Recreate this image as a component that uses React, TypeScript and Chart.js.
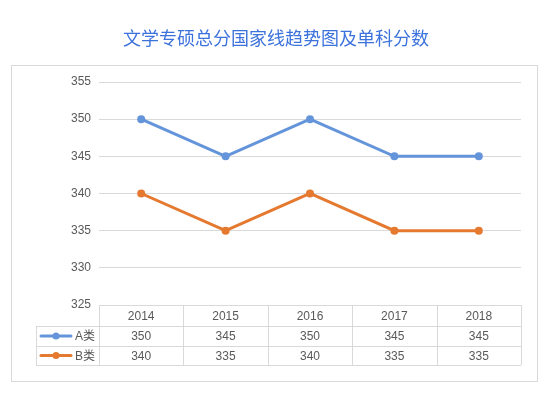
import React, { useEffect, useRef } from "react";
import { Chart, registerables } from "chart.js";

Chart.register(...registerables);

const title = "文学专硕总分国家线趋势图及单科分数";
const categories = ["2014", "2015", "2016", "2017", "2018"];
const seriesA = [350, 345, 350, 345, 345];
const seriesB = [340, 335, 340, 335, 335];
const seriesNames = ["A类", "B类"];
const colors = ["#6494da", "#e4792f"];
const yMin = 325;
const yMax = 355;
const yStep = 5;

const FONT = "'Liberation Sans', Arial, sans-serif";

const decorPlugin = {
  id: "decor",
  beforeDraw(chart: any) {
    const ctx = chart.ctx;
    ctx.save();
    ctx.fillStyle = "#ffffff";
    ctx.fillRect(0, 0, chart.width, chart.height);
    ctx.strokeStyle = "#d9d9d9";
    ctx.lineWidth = 1;
    ctx.strokeRect(11.5, 65.5, 526, 316);
    ctx.fillStyle = "#3c72dc";
    ctx.font = "18px 'Noto Sans CJK SC', sans-serif";
    ctx.textAlign = "center";
    ctx.textBaseline = "middle";
    ctx.fillText(title, 276, 38);
    ctx.restore();
  },
  afterDraw(chart: any) {
    const ctx = chart.ctx;
    const area = chart.chartArea;
    const xs = chart.scales.x;
    const n = categories.length;
    const band = (xs.getPixelForValue(1) - xs.getPixelForValue(0));
    const left = area.left;
    const right = area.right;
    const top = area.bottom;
    const rowH = [21, 20, 19];
    const y0 = top;
    const y1 = y0 + rowH[0];
    const y2 = y1 + rowH[1];
    const y3 = y2 + rowH[2];
    const legendLeft = 36;
    ctx.save();
    ctx.strokeStyle = "#d9d9d9";
    ctx.lineWidth = 1;
    const hline = (x1: number, x2: number, y: number) => {
      ctx.beginPath();
      ctx.moveTo(x1, Math.round(y) + 0.5);
      ctx.lineTo(x2, Math.round(y) + 0.5);
      ctx.stroke();
    };
    const vline = (x: number, ya: number, yb: number) => {
      ctx.beginPath();
      ctx.moveTo(Math.round(x) + 0.5, ya);
      ctx.lineTo(Math.round(x) + 0.5, yb);
      ctx.stroke();
    };
    hline(left, right, y0);
    hline(legendLeft, right, y1);
    hline(legendLeft, right, y2);
    hline(legendLeft, right, y3);
    vline(left, y0, y3);
    vline(legendLeft, y1, y3);
    for (let i = 0; i < n; i++) {
      const xr = xs.getPixelForValue(i) + band / 2;
      vline(Math.min(xr, right), y0, y3);
    }
    ctx.fillStyle = "#595959";
    ctx.font = "12px " + FONT;
    ctx.textAlign = "center";
    ctx.textBaseline = "middle";
    const rows = [seriesA, seriesB];
    for (let i = 0; i < n; i++) {
      const cx = xs.getPixelForValue(i);
      ctx.fillText(categories[i], cx, (y0 + y1) / 2 + 1);
      ctx.fillText(String(rows[0][i]), cx, (y1 + y2) / 2 + 1);
      ctx.fillText(String(rows[1][i]), cx, (y2 + y3) / 2 + 1);
    }
    const rowMid = [(y1 + y2) / 2, (y2 + y3) / 2];
    for (let r = 0; r < 2; r++) {
      const cy = rowMid[r];
      ctx.strokeStyle = colors[r];
      ctx.lineWidth = 3;
      ctx.lineCap = "round";
      ctx.beginPath();
      ctx.moveTo(41, cy);
      ctx.lineTo(71, cy);
      ctx.stroke();
      ctx.fillStyle = colors[r];
      ctx.beginPath();
      ctx.arc(56, cy, 3.5, 0, Math.PI * 2);
      ctx.fill();
      ctx.fillStyle = "#595959";
      ctx.textAlign = "left";
      ctx.font = "12px " + FONT + ", 'Noto Sans CJK SC'";
      ctx.fillText(seriesNames[r], 75, cy + 1);
    }
    ctx.restore();
  },
};

export default function App() {
  const ref = useRef<HTMLCanvasElement | null>(null);
  useEffect(() => {
    document.body.style.margin = "0";
    const canvas = ref.current;
    if (!canvas) return;
    const chart = new Chart(canvas, {
      type: "line",
      data: {
        labels: categories,
        datasets: [
          {
            label: seriesNames[0],
            data: seriesA,
            borderColor: colors[0],
            backgroundColor: colors[0],
            borderWidth: 3,
            pointRadius: 4,
            pointBorderWidth: 0,
            tension: 0,
          },
          {
            label: seriesNames[1],
            data: seriesB,
            borderColor: colors[1],
            backgroundColor: colors[1],
            borderWidth: 3,
            pointRadius: 4,
            pointBorderWidth: 0,
            tension: 0,
          },
        ],
      },
      options: {
        responsive: false,
        animation: false,
        layout: { padding: { left: 0, right: 27, top: 82, bottom: 90 } },
        plugins: {
          legend: { display: false },
          title: { display: false },
          tooltip: { enabled: false },
        },
        scales: {
          x: {
            display: false,
            offset: true,
          },
          y: {
            min: yMin,
            max: yMax,
            ticks: {
              stepSize: yStep,
              color: "#595959",
              font: { family: FONT, size: 12 },
              padding: 8,
            },
            grid: { color: "#d9d9d9", drawTicks: false },
            border: { display: false },
            afterFit: (scale: any) => {
              scale.width = 99;
            },
          },
        },
      },
      plugins: [decorPlugin],
    });
    return () => chart.destroy();
  }, []);
  return <canvas ref={ref} width={548} height={395} style={{ display: "block" }} />;
}
